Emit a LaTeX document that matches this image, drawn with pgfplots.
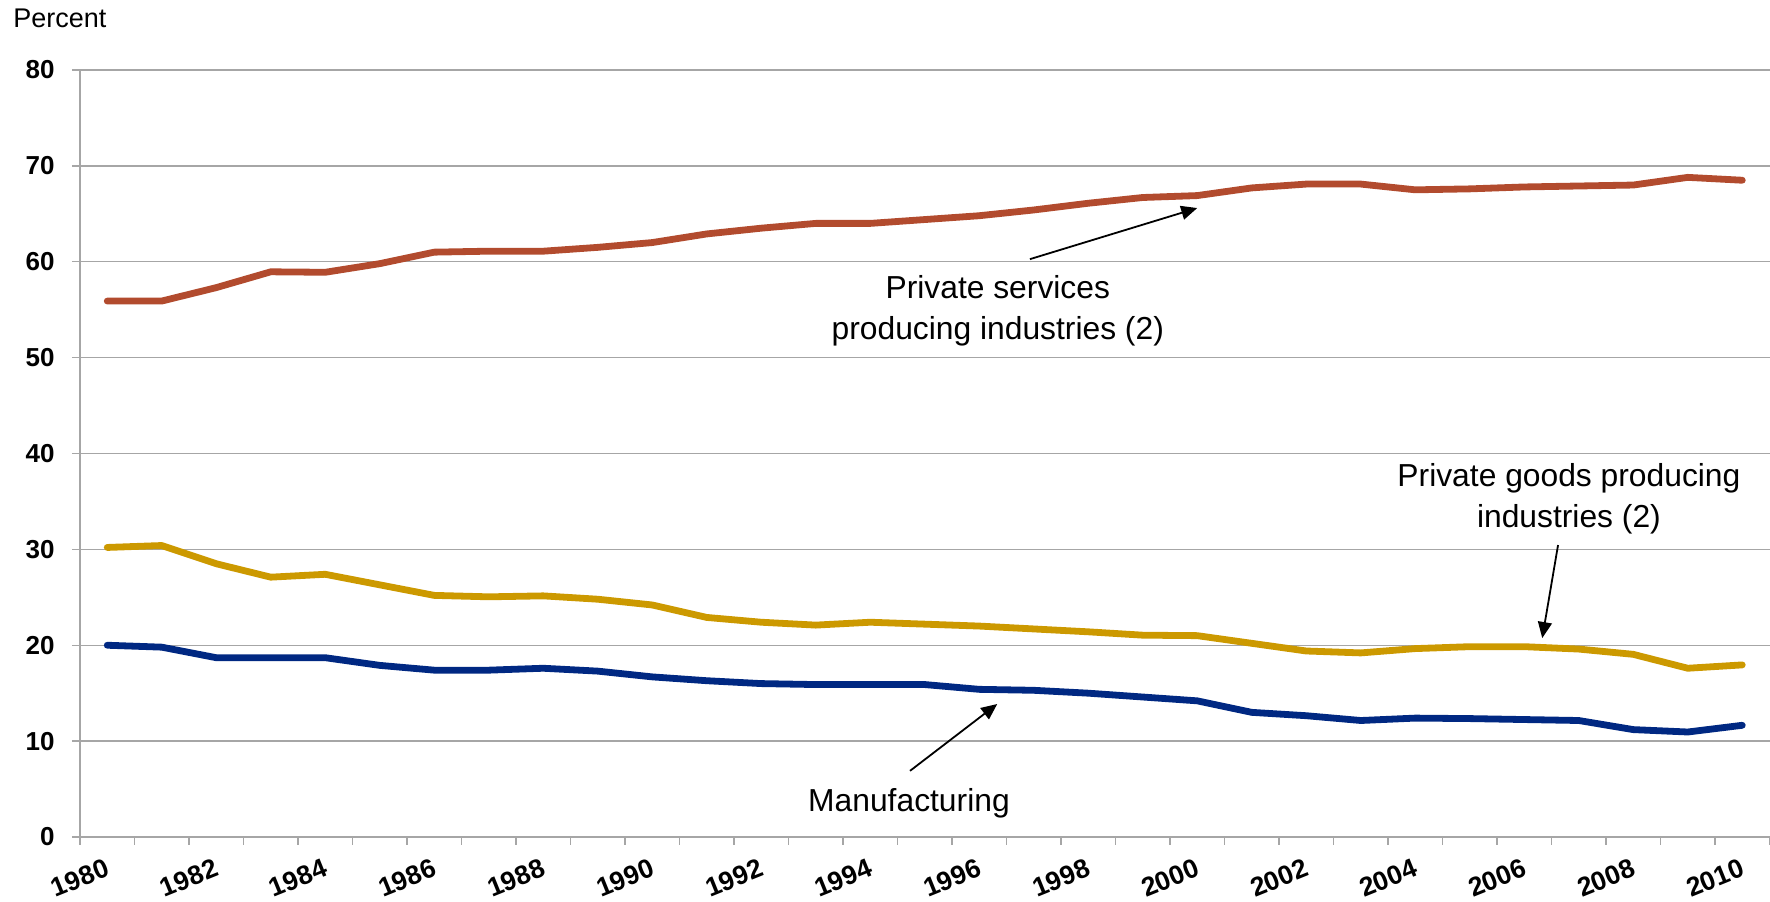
\documentclass[border=0pt]{standalone}
\usepackage{pgfplots}
\pgfplotsset{compat=1.18}
\usepackage{pgfplotstable}
\usepackage{fontspec}
\setmainfont{Liberation Sans}
\usetikzlibrary{arrows.meta}

\definecolor{servcol}{RGB}{178,75,46}
\definecolor{goodscol}{RGB}{204,153,0}
\definecolor{manucol}{RGB}{0,40,130}
\definecolor{gridgray}{RGB}{166,166,166}

% x = category centre (1980 -> 0.5), values in percent
\pgfplotstableread{
x    serv  goods manu
0.5  55.9  30.2  20.0
1.5  55.9  30.4  19.8
2.5  57.3  28.5  18.7
3.5  58.95 27.1  18.7
4.5  58.9  27.4  18.7
5.5  59.8  26.3  17.9
6.5  61.0  25.2  17.4
7.5  61.1  25.05 17.4
8.5  61.1  25.15 17.6
9.5  61.5  24.8  17.3
10.5 62.0  24.2  16.7
11.5 62.9  22.9  16.3
12.5 63.5  22.4  16.0
13.5 64.0  22.1  15.9
14.5 64.0  22.4  15.9
15.5 64.4  22.2  15.9
16.5 64.8  22.0  15.4
17.5 65.4  21.7  15.3
18.5 66.1  21.4  15.0
19.5 66.7  21.05 14.6
20.5 66.9  21.0  14.2
21.5 67.7  20.2  13.0
22.5 68.1  19.4  12.65
23.5 68.1  19.2  12.15
24.5 67.5  19.65 12.4
25.5 67.6  19.85 12.35
26.5 67.8  19.85 12.25
27.5 67.9  19.6  12.15
28.5 68.0  19.05 11.2
29.5 68.8  17.6  10.95
30.5 68.5  17.95 11.65
}\shares

\begin{document}
\begin{tikzpicture}
\begin{axis}[
    scale only axis,
    width=844.75pt, height=383.5pt,
    xmin=0, xmax=31,
    ymin=0, ymax=80,
    axis lines=left,
    axis line style={draw=gridgray, line width=0.7pt, -},
    tick style={draw=gridgray, line width=0.7pt},
    tick align=outside,
    major tick length=4pt,
    minor tick length=4pt,
    xtick={0,2,...,30},
    minor xtick={1,3,...,31},
    xticklabels={1980,1982,1984,1986,1988,1990,1992,1994,1996,1998,2000,2002,2004,2006,2008,2010},
    ytick={0,10,...,80},
    ymajorgrids=true,
    grid style={draw=gridgray, line width=0.7pt},
    /pgf/number format/assume math mode=true,
    yticklabel style={anchor=east, inner sep=0pt, xshift=-8.5pt,
        font=\fontsize{13}{15}\selectfont\bfseries},
    xticklabel style={anchor=center, inner sep=0pt, yshift=-16.5pt, rotate=22,
        font=\fontsize{13.3}{15}\selectfont\bfseries},
    clip=false,
]
\addplot[servcol, line width=3.4pt, line cap=round, line join=round] table[x=x, y=serv] {\shares};
\addplot[goodscol, line width=3.4pt, line cap=round, line join=round] table[x=x, y=goods] {\shares};
\addplot[manucol, line width=3.4pt, line cap=round, line join=round] table[x=x, y=manu] {\shares};

\node[align=center, font=\fontsize{15.9}{20.5}\selectfont] at (axis cs:16.84,54.9)
    {Private services\\producing industries (2)};
\draw[black, line width=0.9pt, -{Triangle[length=8pt,width=7pt]}]
    (axis cs:17.43,60.27) -- (axis cs:20.5,65.6);

\node[align=center, font=\fontsize{15.9}{20.5}\selectfont] at (axis cs:27.32,35.25)
    {Private goods producing\\industries (2)};
\draw[black, line width=0.9pt, -{Triangle[length=8pt,width=7pt]}]
    (axis cs:27.12,30.45) -- (axis cs:26.83,20.75);

\node[font=\fontsize{15.9}{20.5}\selectfont] at (axis cs:15.21,3.55) {Manufacturing};
\draw[black, line width=0.9pt, -{Triangle[length=8pt,width=7pt]}]
    (axis cs:15.23,6.9) -- (axis cs:16.83,13.87);
\end{axis}
\node[anchor=base west, inner sep=0pt, font=\fontsize{13.5}{16}\selectfont]
    at ([xshift=-33.5pt, yshift=21pt]current axis.north west) {Percent};
\pgfresetboundingbox
\path[use as bounding box] ([xshift=-40pt, yshift=-32.5pt]current axis.south west)
    rectangle ([xshift=0.25pt, yshift=35pt]current axis.north east);
\end{tikzpicture}
\end{document}
